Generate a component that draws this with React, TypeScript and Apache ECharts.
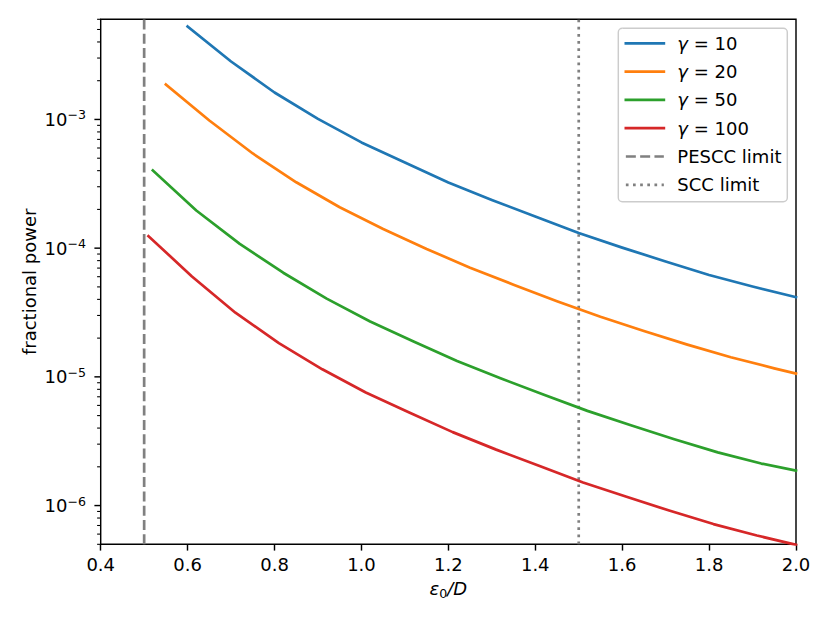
import { useEffect, useRef } from "react";
import * as echarts from "echarts";

// ---- data ----
const g10X = [0.6, 0.7, 0.8, 0.9, 1.0, 1.1, 1.2, 1.3, 1.4, 1.5, 1.6, 1.7, 1.8, 1.9, 2.0];
const g10Y = [5.28e-3, 2.82e-3, 1.62e-3, 1.01e-3, 6.63e-4, 4.63e-4, 3.24e-4, 2.37e-4, 1.76e-4, 1.31e-4, 1.01e-4, 7.88e-5, 6.19e-5, 5.04e-5, 4.16e-5];

const g20X = [0.55, 0.65, 0.75, 0.85, 0.95, 1.05, 1.15, 1.25, 1.35, 1.45, 1.55, 1.65, 1.75, 1.85, 1.95, 2.0];
const g20Y = [1.87e-3, 9.82e-4, 5.44e-4, 3.25e-4, 2.08e-4, 1.41e-4, 9.86e-5, 7.05e-5, 5.2e-5, 3.87e-5, 2.93e-5, 2.27e-5, 1.78e-5, 1.42e-5, 1.165e-5, 1.06e-5];

const g50X = [0.52, 0.62, 0.72, 0.82, 0.92, 1.02, 1.12, 1.22, 1.32, 1.42, 1.52, 1.62, 1.72, 1.82, 1.92, 2.0];
const g50Y = [4.02e-4, 1.96e-4, 1.08e-4, 6.44e-5, 4.05e-5, 2.69e-5, 1.88e-5, 1.33e-5, 9.75e-6, 7.26e-6, 5.44e-6, 4.21e-6, 3.28e-6, 2.59e-6, 2.12e-6, 1.87e-6];

const g100X = [0.51, 0.61, 0.71, 0.81, 0.91, 1.01, 1.11, 1.21, 1.31, 1.41, 1.51, 1.61, 1.71, 1.81, 1.91, 2.0];
const g100Y = [1.24e-4, 6.03e-5, 3.15e-5, 1.83e-5, 1.145e-5, 7.56e-6, 5.29e-6, 3.72e-6, 2.72e-6, 2.03e-6, 1.51e-6, 1.17e-6, 9.1e-7, 7.18e-7, 5.85e-7, 4.95e-7];

const seriesNames = ["γ = 10", "γ = 20", "γ = 50", "γ = 100"];
const pesccLimit = 0.5;
const sccLimit = 1.5;
const limitNames = ["PESCC limit", "SCC limit"];

const xMin = 0.4;
const xMax = 2.0;
const xStep = 0.2;
const yMin = 5e-7;
const yMax = 6e-3;
const yDecades = [1e-7, 1e-6, 1e-5, 1e-4, 1e-3];
const yMultiples = [1, 2, 3, 4, 5, 6, 7, 8, 9];

const xTitle = "ε0/D";
const yTitle = "fractional power";

const FONT = '"DejaVu Sans", Verdana, sans-serif';
const COLORS = ["#1f77b4", "#ff7f0e", "#2ca02c", "#d62728"];

const GRID = { left: 100.7, top: 19.3, width: 695.3, height: 525 };

export default function App() {
  const ref = useRef<HTMLDivElement>(null);

  useEffect(() => {
    const chart = echarts.init(ref.current!, null, { renderer: "svg" });
    const zip = (xs: number[], ys: number[]) => xs.map((x, i) => [x, ys[i]]);
    const curves = [
      zip(g10X, g10Y),
      zip(g20X, g20Y),
      zip(g50X, g50Y),
      zip(g100X, g100Y),
    ];

    const yTicks: number[][] = [];
    yDecades.forEach((d) =>
      yMultiples.forEach((m) => {
        const v = m * d;
        if (v >= yMin * 0.999 && v <= yMax * 1.001) yTicks.push([xMin, v, m === 1 ? 1 : 0]);
      })
    );

    const lineSeries = curves.map((data, i) => ({
      type: "line",
      name: seriesNames[i],
      data,
      symbol: "none",
      showSymbol: false,
      lineStyle: { color: COLORS[i], width: 2.7, cap: "square", join: "round" },
      itemStyle: { color: COLORS[i] },
      z: 3,
      silent: true,
    }));

    const limitSeries = [
      {
        type: "line",
        name: limitNames[0],
        data: [
          [pesccLimit, yMin],
          [pesccLimit, yMax],
        ],
        symbol: "none",
        lineStyle: { color: "#808080", width: 2.7, type: [10, 4.3], cap: "butt" },
        itemStyle: { color: "#808080" },
        z: 2,
        silent: true,
      },
      {
        type: "line",
        name: limitNames[1],
        data: [
          [sccLimit, yMin],
          [sccLimit, yMax],
        ],
        symbol: "none",
        lineStyle: { color: "#808080", width: 2.7, type: [2.7, 4.45], cap: "butt" },
        itemStyle: { color: "#808080" },
        z: 2,
        silent: true,
      },
    ];

    const tickSeries = {
      type: "custom",
      name: "yticks",
      data: yTicks,
      clip: false,
      silent: true,
      z: 10,
      encode: { x: 0, y: 1 },
      renderItem: (_params: any, api: any) => {
        const major = api.value(2) === 1;
        const p = api.coord([api.value(0), api.value(1)]);
        const len = major ? 6.3 : 3.6;
        return {
          type: "line",
          shape: { x1: p[0] - len, y1: p[1], x2: p[0], y2: p[1] },
          style: { stroke: "#000", lineWidth: major ? 1.44 : 1.08 },
        };
      },
    };

    const option: any = {
      animation: false,
      backgroundColor: "#ffffff",
      textStyle: { fontFamily: FONT },
      grid: {
        left: GRID.left,
        top: GRID.top,
        width: GRID.width,
        height: GRID.height,
        show: true,
        borderColor: "#000",
        borderWidth: 1.44,
        backgroundColor: "transparent",
        containLabel: false,
        outerBoundsMode: "none",
      },
      legend: {
        orient: "vertical",
        left: 624.5,
        top: 34.3,
        padding: 0,
        itemWidth: 38,
        itemHeight: 18,
        itemGap: 10.3,
        selectedMode: false,
        itemStyle: { opacity: 0 },
        lineStyle: { width: 2.7 },
        data: [...seriesNames, ...limitNames],
        formatter: (name: string) =>
          name.startsWith("γ") ? "{g|γ}" + name.slice(1) : name,
        textStyle: {
          fontFamily: FONT,
          fontSize: 18,
          color: "#000",
          lineHeight: 18,
          padding: [0, 0, 0, 8.5],
          rich: {
            g: { fontFamily: FONT, fontSize: 18, fontStyle: "italic", color: "#000", lineHeight: 18 },
          },
        },
        z: 6,
      },
      xAxis: {
        type: "value",
        min: xMin,
        max: xMax,
        interval: xStep,
        axisLine: { show: false },
        splitLine: { show: false },
        axisTick: { show: true, length: 6.3, lineStyle: { color: "#000", width: 1.44 } },
        axisLabel: {
          fontFamily: FONT,
          fontSize: 18,
          lineHeight: 18,
          color: "#000",
          margin: 10.7,
          formatter: (v: number) => v.toFixed(1),
        },
      },
      yAxis: {
        type: "log",
        logBase: 10,
        min: yMin,
        max: yMax,
        axisLine: { show: false },
        splitLine: { show: false },
        axisTick: { show: false },
        axisLabel: {
          margin: 14.7,
          color: "#000",
          formatter: (v: number) => {
            const l = Math.log10(v);
            const e = Math.round(l);
            if (Math.abs(l - e) > 1e-3) return "";
            return "{b|10}{s|" + (e < 0 ? "−" : "") + Math.abs(e) + "}";
          },
          rich: {
            b: { fontFamily: FONT, fontSize: 18, color: "#000", padding: [2, 0, 2, 0], lineHeight: 22, verticalAlign: "top" },
            s: { fontFamily: FONT, fontSize: 12.6, color: "#000", lineHeight: 22, verticalAlign: "top" },
          },
        },
      },
      graphic: [
        {
          type: "rect",
          shape: { x: 618.3, y: 28.3, width: 169, height: 173.4, r: 4 },
          style: { fill: "rgba(255,255,255,0.8)", stroke: "#cccccc", lineWidth: 1.44 },
          z: 4,
          silent: true,
        },
        {
          type: "text",
          x: 29,
          y: GRID.top + GRID.height / 2,
          rotation: Math.PI / 2,
          style: {
            text: yTitle,
            fontFamily: FONT,
            fontSize: 18,
            fill: "#000",
            align: "center",
            verticalAlign: "middle",
          },
          silent: true,
        },
        {
          type: "text",
          x: GRID.left + GRID.width / 2,
          y: 589.85,
          style: {
            text: "{i|" + xTitle.slice(0, 1) + "}{sub|" + xTitle.slice(1, 2) + "}{i|" + xTitle.slice(2) + "}",
            fontFamily: FONT,
            fontSize: 18,
            fill: "#000",
            align: "center",
            verticalAlign: "middle",
            rich: {
              i: { fontFamily: FONT, fontSize: 18, fontStyle: "italic", fill: "#000", lineHeight: 20.1, verticalAlign: "top" },
              sub: { fontFamily: FONT, fontSize: 12.6, fill: "#000", padding: [7.5, 0, 0, 0], lineHeight: 20.1, verticalAlign: "top" },
            },
          },
          silent: true,
        },
      ],
      series: [...lineSeries, ...limitSeries, tickSeries],
    };

    chart.setOption(option);
    return () => chart.dispose();
  }, []);

  return (
    <div
      ref={ref}
      style={{ position: "fixed", left: 0, top: 0, width: 830, height: 623, background: "#fff" }}
    />
  );
}
